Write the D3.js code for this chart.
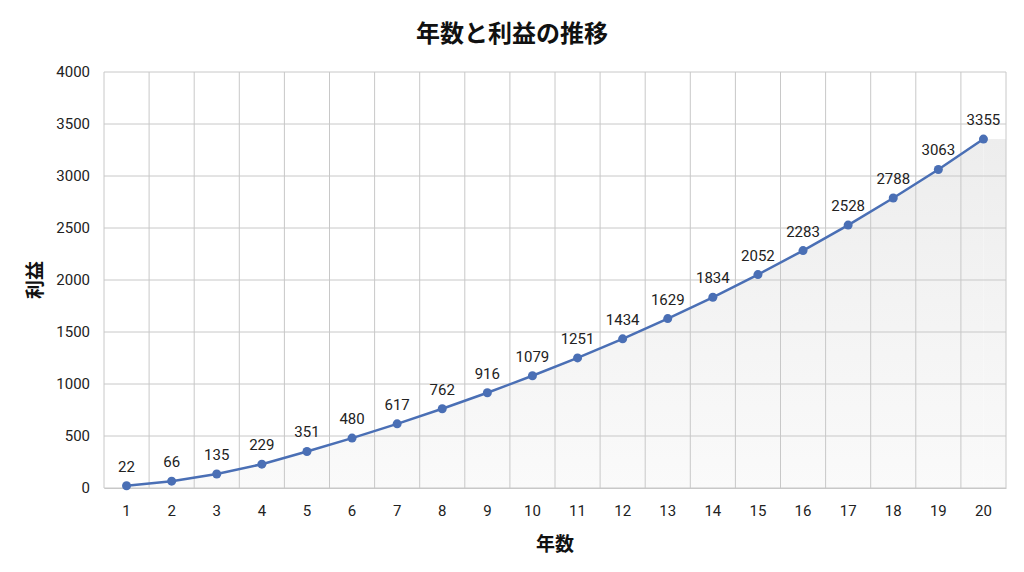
<!DOCTYPE html>
<html><head><meta charset="utf-8">
<script src="https://cdn.jsdelivr.net/npm/d3@7"></script>
<style>body{margin:0;background:#fff}svg{font-family:"Noto Sans CJK JP","Noto Sans",sans-serif}</style>
</head><body><svg id="chart" width="1024" height="572"></svg>
<script>
const years = d3.range(1, 21);
const profits = [22, 66, 135, 229, 351, 480, 617, 762, 916, 1079, 1251, 1434, 1629, 1834, 2052, 2283, 2528, 2788, 3063, 3355];
const yTicks = [0, 500, 1000, 1500, 2000, 2500, 3000, 3500, 4000];

const margin = { top: 72, right: 18, bottom: 84, left: 104 };
const width = 1024, height = 572;
const svg = d3.select("#chart");

const x = d3.scaleBand().domain(years).range([margin.left, width - margin.right]);
const y = d3.scaleLinear().domain([0, 4000]).range([height - margin.bottom, margin.top]);
const cx = d => x(d) + x.bandwidth() / 2;

const defs = svg.append("defs");
const grad = defs.append("linearGradient").attr("id", "fade").attr("x1", 0).attr("x2", 0).attr("y1", 0).attr("y2", 1);
grad.append("stop").attr("offset", "0%").attr("stop-color", "#ededed");
grad.append("stop").attr("offset", "100%").attr("stop-color", "#fafafa");

// area under line
svg.append("path")
  .attr("fill", "url(#fade)")
  .attr("d", d3.area().x(cx).y0(y(0)).y1((d, i) => y(profits[i]))(years));
svg.append("rect")
  .attr("x", cx(20)).attr("y", y(3355))
  .attr("width", width - margin.right - cx(20)).attr("height", y(0) - y(3355))
  .attr("fill", "url(#fade)");

// grid
const grid = svg.append("g").attr("stroke", "#c8c8c8").attr("stroke-width", 1);
grid.selectAll("line.h").data(yTicks).join("line")
  .attr("x1", margin.left).attr("x2", width - margin.right)
  .attr("y1", d => y(d)).attr("y2", d => y(d));
const vx = years.map(d => x(d)).concat([width - margin.right]);
grid.selectAll("line.v").data(vx).join("line")
  .attr("x1", d => d).attr("x2", d => d)
  .attr("y1", y(4000)).attr("y2", y(0));

// axes
const xAxis = svg.append("g").attr("transform", `translate(0,${y(0)})`)
  .call(d3.axisBottom(x).tickSize(0).tickPadding(17));
xAxis.select(".domain").attr("stroke", "#c8c8c8");
const yAxis = svg.append("g").attr("transform", `translate(${margin.left},0)`)
  .call(d3.axisLeft(y).tickValues(yTicks).tickFormat(d3.format("d")).tickSize(0).tickPadding(14));
yAxis.select(".domain").remove();
svg.selectAll(".tick text").attr("font-size", 15).attr("fill", "#222").attr("font-family", "Roboto, sans-serif");

// line
svg.append("path")
  .attr("fill", "none").attr("stroke", "#4a6fb5").attr("stroke-width", 2.5)
  .attr("d", d3.line().x(cx).y((d, i) => y(profits[i]))(years));
svg.selectAll("circle").data(years).join("circle")
  .attr("cx", cx).attr("cy", (d, i) => y(profits[i])).attr("r", 4.5)
  .attr("fill", "#4a6fb5");
svg.append("g").selectAll("text").data(years).join("text")
  .attr("x", cx).attr("y", (d, i) => y(profits[i]) - 14)
  .attr("text-anchor", "middle").attr("font-size", 15).attr("fill", "#222")
  .attr("font-family", "Roboto, sans-serif")
  .text((d, i) => profits[i]);

// titles
svg.append("text").attr("x", 512).attr("y", 42).attr("text-anchor", "middle")
  .attr("font-size", 24).attr("font-weight", "bold").attr("fill", "#111").text("年数と利益の推移");
svg.append("text").attr("x", 555).attr("y", 551).attr("text-anchor", "middle")
  .attr("font-size", 19).attr("font-weight", "bold").attr("fill", "#111").text("年数");
svg.append("text").attr("transform", "translate(42,280) rotate(-90)").attr("text-anchor", "middle")
  .attr("font-size", 19).attr("font-weight", "bold").attr("fill", "#111").text("利益");
</script></body></html>
